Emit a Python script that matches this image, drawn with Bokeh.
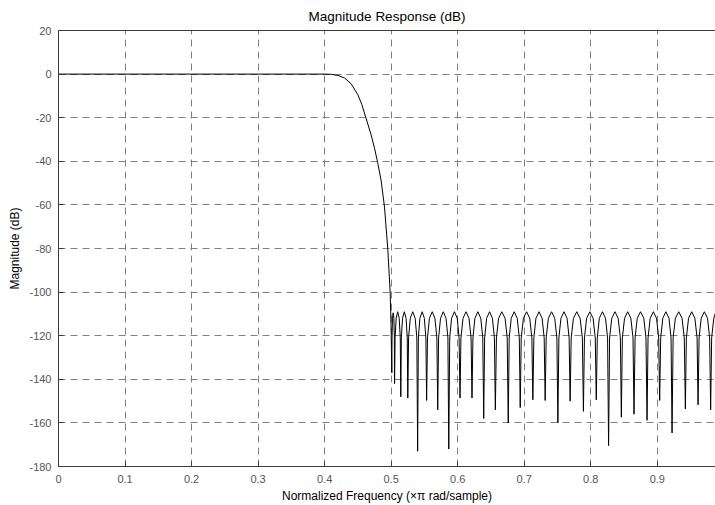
from bokeh.plotting import figure
from bokeh.models import LinearAxis, FixedTicker, Range1d
from bokeh.embed import file_html
from bokeh.resources import INLINE

# ---------------- data ----------------
title_text = "Magnitude Response (dB)"
x_label = "Normalized Frequency (\u00d7\u03c0 rad/sample)"
y_label = "Magnitude (dB)"

x_ticks = [0.0, 0.1, 0.2, 0.3, 0.4, 0.5, 0.6, 0.7, 0.8, 0.9]
x_tick_labels = ["0", "0.1", "0.2", "0.3", "0.4", "0.5", "0.6", "0.7", "0.8", "0.9"]
y_ticks = [-180, -160, -140, -120, -100, -80, -60, -40, -20, 0, 20]
y_tick_labels = ["-180", "-160", "-140", "-120", "-100", "-80", "-60", "-40", "-20", "0", "20"]

x_limits = [0.0, 0.9875]
y_limits = [-180, 20]

# passband (flat at 0 dB)
pass_freq = [0.0, 0.1, 0.2, 0.3, 0.4, 0.41, 0.42]
pass_db = [0.0, 0.0, 0.0, 0.0, 0.0, -0.1, -0.6]

# transition band
trans_freq = [0.43, 0.44, 0.45, 0.456, 0.462, 0.47, 0.475, 0.48, 0.485, 0.49, 0.4949, 0.4985, 0.4998]
trans_db = [-1.8, -4.5, -9.5, -14.0, -20.0, -28.0, -34.0, -41.0, -49.0, -61.0, -80.0, -100.0, -115.0]

# stopband nulls (frequency, depth)
null_freq = [0.5010, 0.5051, 0.5145, 0.5250, 0.5398, 0.5533, 0.5700, 0.5866, 0.6035, 0.6215,
             0.6391, 0.6566, 0.6760, 0.6940, 0.7130, 0.7315, 0.7506, 0.7690, 0.7890, 0.8083,
             0.8268, 0.8460, 0.8650, 0.8846, 0.9036, 0.9222, 0.9422, 0.9613, 0.9802]
null_db = [-137.0, -142.0, -148.0, -148.6, -173.0, -149.7, -154.0, -172.0, -148.6, -148.6,
           -158.0, -154.0, -160.0, -153.0, -149.4, -149.7, -160.0, -150.0, -154.7, -149.4,
           -170.4, -157.4, -156.0, -158.8, -149.7, -164.6, -153.6, -151.7, -154.0]

# stopband lobes following each null
lobe_freq = [
    [0.5013, 0.5020, 0.5030, 0.5041, 0.5048],
    [0.5059, 0.5075, 0.5098, 0.5121, 0.5137],
    [0.5153, 0.5171, 0.5198, 0.5224, 0.5242],
    [0.5262, 0.5287, 0.5324, 0.5361, 0.5386],
    [0.5409, 0.5432, 0.5466, 0.5499, 0.5522],
    [0.5546, 0.5575, 0.5617, 0.5658, 0.5687],
    [0.5713, 0.5742, 0.5783, 0.5825, 0.5853],
    [0.5880, 0.5908, 0.5951, 0.5993, 0.6021],
    [0.6049, 0.6080, 0.6125, 0.6170, 0.6201],
    [0.6229, 0.6259, 0.6303, 0.6347, 0.6377],
    [0.6405, 0.6435, 0.6479, 0.6522, 0.6552],
    [0.6582, 0.6615, 0.6663, 0.6712, 0.6744],
    [0.6774, 0.6805, 0.6850, 0.6895, 0.6926],
    [0.6955, 0.6988, 0.7035, 0.7083, 0.7115],
    [0.7145, 0.7176, 0.7223, 0.7269, 0.7300],
    [0.7330, 0.7363, 0.7411, 0.7458, 0.7491],
    [0.7521, 0.7552, 0.7598, 0.7644, 0.7675],
    [0.7706, 0.7740, 0.7790, 0.7840, 0.7874],
    [0.7905, 0.7938, 0.7987, 0.8035, 0.8068],
    [0.8098, 0.8129, 0.8176, 0.8222, 0.8253],
    [0.8283, 0.8316, 0.8364, 0.8412, 0.8445],
    [0.8475, 0.8508, 0.8555, 0.8603, 0.8635],
    [0.8666, 0.8699, 0.8748, 0.8797, 0.8830],
    [0.8861, 0.8894, 0.8941, 0.8989, 0.9021],
    [0.9051, 0.9083, 0.9129, 0.9176, 0.9207],
    [0.9238, 0.9272, 0.9322, 0.9372, 0.9406],
    [0.9437, 0.9470, 0.9518, 0.9565, 0.9598],
    [0.9628, 0.9660, 0.9708, 0.9755, 0.9787],
    [0.9817, 0.9849, 0.9875],
]
lobe_db = [
    [-121.0, -112.0, -109.5, -112.0, -121.0],
    [-121.0, -112.0, -109.0, -112.0, -121.0],
    [-121.0, -112.0, -109.0, -112.0, -121.0],
    [-121.0, -112.0, -109.0, -112.0, -121.0],
    [-121.0, -112.0, -109.0, -112.0, -121.0],
    [-121.0, -112.0, -109.0, -112.0, -121.0],
    [-121.0, -112.0, -109.0, -112.0, -121.0],
    [-121.0, -112.0, -109.0, -112.0, -121.0],
    [-121.0, -112.0, -109.0, -112.0, -121.0],
    [-121.0, -112.0, -109.0, -112.0, -121.0],
    [-121.0, -112.0, -109.0, -112.0, -121.0],
    [-121.0, -112.0, -109.0, -112.0, -121.0],
    [-121.0, -112.0, -109.0, -112.0, -121.0],
    [-121.0, -112.0, -109.0, -112.0, -121.0],
    [-121.0, -112.0, -109.0, -112.0, -121.0],
    [-121.0, -112.0, -109.0, -112.0, -121.0],
    [-121.0, -112.0, -109.0, -112.0, -121.0],
    [-121.0, -112.0, -109.0, -112.0, -121.0],
    [-121.0, -112.0, -109.0, -112.0, -121.0],
    [-121.0, -112.0, -109.0, -112.0, -121.0],
    [-121.0, -112.0, -109.0, -112.0, -121.0],
    [-121.0, -112.0, -109.0, -112.0, -121.0],
    [-121.0, -112.0, -109.0, -112.0, -121.0],
    [-121.0, -112.0, -109.0, -112.0, -121.0],
    [-121.0, -112.0, -109.0, -112.0, -121.0],
    [-121.0, -112.0, -109.0, -112.0, -121.0],
    [-121.0, -112.0, -109.0, -112.0, -121.0],
    [-121.0, -112.0, -109.0, -112.0, -121.0],
    [-121.0, -112.0, -109.5],
]

# ---------------- assemble curve ----------------
freq = list(pass_freq) + list(trans_freq)
mag = list(pass_db) + list(trans_db)
for nf, nd, lf, ld in zip(null_freq, null_db, lobe_freq, lobe_db):
    freq.append(nf)
    mag.append(nd)
    freq.extend(lf)
    mag.extend(ld)

# ---------------- figure ----------------
FONT = "Liberation Sans"
AXIS_COLOR = "#3c3c3c"
LABEL_COLOR = "#555555"

p = figure(width=715, height=505,
           x_range=Range1d(*x_limits), y_range=Range1d(*y_limits),
           output_backend="svg", toolbar_location=None,
           min_border_left=58, min_border_right=0, min_border_top=30, min_border_bottom=0,
           background_fill_color="white", border_fill_color="white")
p.outline_line_color = None

p.title.text = title_text
p.title.align = "center"
p.title.text_font = FONT
p.title.text_font_size = "13.5px"
p.title.text_font_style = "normal"
p.title.text_color = "black"
p.title.standoff = 13

p.xaxis.ticker = FixedTicker(ticks=x_ticks)
p.yaxis.ticker = FixedTicker(ticks=y_ticks)
p.xaxis.major_label_overrides = dict(zip(x_ticks, x_tick_labels))
p.yaxis.major_label_overrides = dict(zip(y_ticks, y_tick_labels))

for ax in (p.xaxis[0], p.yaxis[0]):
    ax.major_tick_in = 5
    ax.major_tick_out = 0
    ax.minor_tick_in = 0
    ax.minor_tick_out = 0
    ax.axis_line_color = AXIS_COLOR
    ax.major_tick_line_color = AXIS_COLOR
    ax.major_label_text_font = FONT
    ax.major_label_text_font_size = "11px"
    ax.major_label_text_color = LABEL_COLOR
    ax.axis_label_text_font = FONT
    ax.axis_label_text_font_size = "12px"
    ax.axis_label_text_font_style = "normal"
    ax.axis_label_text_color = "black"

p.xaxis.axis_label = x_label
p.yaxis.axis_label = y_label
p.xaxis.major_label_standoff = 8
p.xaxis.axis_label_standoff = 3
p.yaxis.major_label_standoff = 7
p.yaxis.axis_label_standoff = 4

# top border of the box (no labels)
top = LinearAxis(ticker=FixedTicker(ticks=[]), major_label_standoff=0,
                 major_tick_in=0, major_tick_out=0, minor_tick_in=0, minor_tick_out=0,
                 axis_line_color=AXIS_COLOR)
p.add_layout(top, "above")

for g in (p.xgrid[0], p.ygrid[0]):
    g.grid_line_color = "#808080"
    g.grid_line_dash = "7 5"
    g.grid_line_width = 1
p.xgrid.ticker = FixedTicker(ticks=x_ticks)
p.ygrid.ticker = FixedTicker(ticks=y_ticks)

p.line(freq, mag, line_color="black", line_width=1)

open("out.html", "w").write(file_html(p, INLINE))
